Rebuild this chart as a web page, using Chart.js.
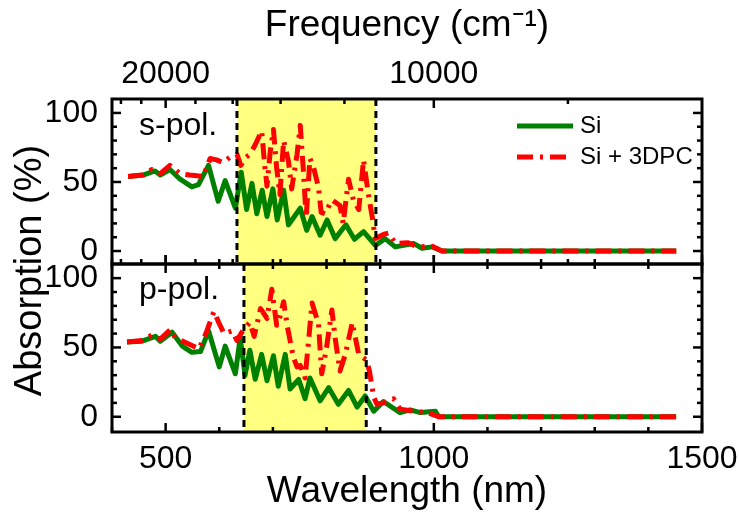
<!DOCTYPE html>
<html>
<head>
<meta charset="utf-8">
<script src="https://cdn.jsdelivr.net/npm/chart.js@4"></script>
<style>
  html, body { margin: 0; padding: 0; background: #fff; }
  #wrap { width: 739px; height: 518px; position: relative; }
</style>
</head>
<body>
<div id="wrap"><canvas id="absorption-chart"></canvas></div>
<script>
// s-pol. panel: Si
const sSiWl  = [430, 458, 480, 490, 508, 527, 549, 561, 580, 598, 611, 630, 641, 651, 661, 670, 680, 689, 700, 708, 720, 729, 751, 763, 773, 788, 801, 816, 836, 852, 869, 891, 909, 928, 962, 978, 997, 1015, 1452];
const sSiAbs = [54, 55, 58, 55, 59, 52, 46.5, 48, 62, 36, 51, 31, 57, 30, 49, 27, 44, 25, 45, 22.5, 44, 19, 31, 15, 25, 11.5, 22.5, 9, 19, 8.5, 14, 4, 9, 3, 5.5, 2, 3, 0, 0];
// s-pol. panel: Si + 3DPC
const sPcWl  = [430, 458, 474, 490, 508, 527, 545, 570, 583, 595, 607, 620, 633, 640, 650, 657, 667, 679, 685, 689, 695, 701, 707, 713, 720, 729, 735, 745, 751, 757, 762, 769, 775, 785, 790, 797, 810, 825, 831, 841, 850, 860, 869, 878, 885, 891, 906, 916, 928, 952, 969, 997, 1015, 1452];
const sPcAbs = [54, 55, 59, 56, 62, 56, 55, 54, 67, 66, 64, 68, 70, 62, 68, 70, 77, 87, 61, 47, 72, 88, 60, 41, 80, 65, 45, 70, 91, 57, 24, 67, 62, 46, 28, 27, 37, 33, 20, 52, 37, 30, 66, 41, 25, 9, 12, 13, 5.5, 6, 3, 3.5, 0, 0];
// p-pol. panel: Si
const pSiWl  = [428, 456, 481, 490, 512, 531, 549, 565, 580, 600, 611, 630, 639, 648, 657, 667, 679, 689, 701, 710, 723, 732, 748, 760, 769, 788, 804, 822, 841, 857, 872, 888, 906, 937, 956, 975, 1003, 1009, 1452];
const pSiAbs = [54, 54.5, 58, 54.5, 61, 51, 46.5, 47, 62, 36, 51, 31, 57, 30, 48, 27, 45, 26, 44, 22, 45, 20, 27, 13, 28, 11.5, 21, 9, 19, 7, 15, 4, 11, 3, 5, 3, 4, 0, 0];
// p-pol. panel: Si + 3DPC
const pPcWl  = [428, 456, 475, 490, 509, 518, 543, 562, 575, 590, 599, 609, 624, 633, 645, 657, 665, 677, 689, 698, 707, 713, 720, 727, 738, 745, 751, 760, 773, 785, 791, 800, 810, 816, 825, 835, 848, 860, 874, 880, 888, 894, 906, 925, 937, 962, 987, 1009, 1452];
const pPcAbs = [54, 55, 59, 56, 63, 57, 52.5, 49, 60, 76, 68, 60, 62, 55, 63, 68, 58, 78, 71, 92, 66, 72, 83, 65, 43, 36, 37, 28, 82, 67, 31, 50, 77, 57, 33, 45, 68, 45, 41, 33, 14, 9, 10, 13, 5.5, 4, 3, 0, 0];

// axes
const wlTicks = [400, 500, 600, 700, 800, 900, 1000, 1100, 1200, 1300, 1400, 1500];
const wlLabels = [500, 1000, 1500];
const freqTicks = [24000, 22000, 20000, 18000, 16000, 14000, 12000, 10000, 8000];
const freqLabels = [20000, 10000];
const yTicks = [0, 50, 100];
const yMinor = [0, 10, 20, 30, 40, 50, 60, 70, 80, 90, 100];

// shaded bands (nm)
const sBand = [633, 892];
const pBand = [646, 874];

const seriesNames = ['Si', 'Si + 3DPC'];

const SANS = '"Liberation Sans", Arial, sans-serif';
const GREEN = 'rgb(0,128,0)';
const RED = 'rgb(255,0,0)';
const PC_DASH = [16, 7, 3, 7];

const panels = [
    { axis: 'yS', band: sBand, label: 's-pol.' },
    { axis: 'yP', band: pBand, label: 'p-pol.' }
];

function pts(wl, abs) {
    return wl.map((w, i) => ({ x: w, y: abs[i] }));
}

function line(ctx, x1, y1, x2, y2) {
    ctx.beginPath();
    ctx.moveTo(x1, y1);
    ctx.lineTo(x2, y2);
    ctx.stroke();
}

const panelPlugin = {
    id: 'panels',
    beforeDatasetsDraw(chart) {
        const ctx = chart.ctx;
        const x = chart.scales.x;
        ctx.save();
        ctx.fillStyle = 'rgb(255,255,128)';
        panels.forEach(p => {
            const y = chart.scales[p.axis];
            const l = x.getPixelForValue(p.band[0]);
            const r = x.getPixelForValue(p.band[1]);
            ctx.fillRect(l, y.top, r - l, y.bottom - y.top);
        });
        ctx.restore();
    },
    afterDatasetsDraw(chart) {
        const ctx = chart.ctx;
        const x = chart.scales.x;
        const yS = chart.scales.yS;
        const yP = chart.scales.yP;
        ctx.save();
        ctx.strokeStyle = '#000';

        // dashed band edges
        ctx.lineWidth = 3;
        ctx.setLineDash([7, 5]);
        panels.forEach(p => {
            const y = chart.scales[p.axis];
            p.band.forEach(b => {
                const px = x.getPixelForValue(b);
                line(ctx, px, y.top, px, y.bottom);
            });
        });
        ctx.setLineDash([]);

        // frames
        ctx.lineWidth = 3;
        panels.forEach(p => {
            const y = chart.scales[p.axis];
            ctx.strokeRect(x.left, y.top, x.right - x.left, y.bottom - y.top);
        });

        // y ticks (inward, both sides)
        ctx.lineWidth = 2.5;
        panels.forEach(p => {
            const y = chart.scales[p.axis];
            yMinor.forEach(v => {
                const py = y.getPixelForValue(v);
                const len = yTicks.includes(v) ? 9 : 5;
                line(ctx, x.left, py, x.left + len, py);
                line(ctx, x.right, py, x.right - len, py);
            });
        });

        // wavelength ticks
        wlTicks.forEach(w => {
            const px = x.getPixelForValue(w);
            const len = wlLabels.includes(w) ? 9 : 5;
            line(ctx, px, yP.bottom, px, yP.bottom - len);
            line(ctx, px, yS.bottom - len, px, yS.bottom + len);
        });

        // frequency ticks
        freqTicks.forEach(f => {
            const px = x.getPixelForValue(1e7 / f);
            const len = freqLabels.includes(f) ? 9 : 5;
            line(ctx, px, yS.top, px, yS.top + len);
            line(ctx, px, yS.bottom, px, yS.bottom - len);
        });

        // panel labels
        ctx.fillStyle = '#000';
        ctx.textAlign = 'left';
        ctx.textBaseline = 'alphabetic';
        ctx.font = '32px ' + SANS;
        ctx.fillText(panels[0].label, x.left + 27, yS.top + 36);
        ctx.fillText(panels[1].label, x.left + 27, yP.top + 35);

        // legend
        ctx.lineWidth = 5;
        ctx.strokeStyle = GREEN;
        line(ctx, x.right - 185, yS.top + 27, x.right - 129, yS.top + 27);
        ctx.strokeStyle = RED;
        ctx.setLineDash(PC_DASH);
        line(ctx, x.right - 185, yS.top + 58, x.right - 129, yS.top + 58);
        ctx.setLineDash([]);
        ctx.font = '24px ' + SANS;
        ctx.textBaseline = 'middle';
        ctx.fillText(seriesNames[0], x.right - 122, yS.top + 27);
        ctx.fillText(seriesNames[1], x.right - 122, yS.top + 58);

        // y title
        ctx.translate(31, (yS.top + yP.bottom) / 2 + 5);
        ctx.rotate(-Math.PI / 2);
        ctx.textAlign = 'center';
        ctx.font = '38px ' + SANS;
        ctx.fillText('Absorption (%)', 0, 0);
        ctx.restore();
    }
};

function yAxis(min, max, weight) {
    return {
        type: 'linear',
        position: 'left',
        stack: 'panels',
        stackWeight: weight,
        min: min,
        max: max,
        grid: { display: false },
        border: { display: false },
        afterBuildTicks: s => { s.ticks = yTicks.map(v => ({ value: v })); },
        afterFit: s => { s.width = 112; },
        ticks: { color: '#000', padding: 6, font: { family: SANS, size: 32 } }
    };
}

new Chart(document.querySelector('#absorption-chart').getContext('2d'), {
    type: 'line',
    data: {
        datasets: [
            { label: seriesNames[1], data: pts(sPcWl, sPcAbs), xAxisID: 'x', yAxisID: 'yS', borderColor: RED, borderDash: PC_DASH, order: 1 },
            { label: seriesNames[0], data: pts(sSiWl, sSiAbs), xAxisID: 'x', yAxisID: 'yS', borderColor: GREEN, order: 2 },
            { label: seriesNames[1], data: pts(pPcWl, pPcAbs), xAxisID: 'x', yAxisID: 'yP', borderColor: RED, borderDash: PC_DASH, order: 1 },
            { label: seriesNames[0], data: pts(pSiWl, pSiAbs), xAxisID: 'x', yAxisID: 'yP', borderColor: GREEN, order: 2 }
        ]
    },
    options: {
        responsive: true,
        maintainAspectRatio: false,
        animation: false,
        layout: { padding: { left: 0, right: 37, top: 0, bottom: 0 } },
        elements: {
            line: { borderWidth: 5, tension: 0, fill: false, borderJoinStyle: 'round' },
            point: { radius: 0 }
        },
        plugins: { legend: { display: false }, tooltip: { enabled: false } },
        scales: {
            x: {
                type: 'linear',
                position: 'bottom',
                min: 400,
                max: 1500,
                grid: { display: false },
                border: { display: false },
                afterBuildTicks: s => { s.ticks = wlTicks.map(v => ({ value: v })); },
                afterFit: s => { s.height = 86; },
                ticks: {
                    color: '#000', padding: 0, autoSkip: false, maxRotation: 0,
                    font: { family: SANS, size: 32 },
                    callback: v => wlLabels.includes(v) ? String(v) : ''
                },
                title: {
                    display: true, text: 'Wavelength (nm)', color: '#000',
                    font: { family: SANS, size: 37 }, padding: { top: 0, bottom: 4 }
                }
            },
            xTop: {
                type: 'linear',
                position: 'top',
                min: 400,
                max: 1500,
                grid: { display: false },
                border: { display: false },
                afterBuildTicks: s => { s.ticks = freqTicks.map(f => ({ value: 1e7 / f })); },
                afterFit: s => { s.height = 99; },
                ticks: {
                    color: '#000', padding: -2, autoSkip: false, maxRotation: 0,
                    font: { family: SANS, size: 32 },
                    callback: (v, i) => freqLabels.includes(freqTicks[i]) ? String(freqTicks[i]) : ''
                },
                title: {
                    display: true, text: 'Frequency (cm\u207B\u00B9)', color: '#000',
                    font: { family: SANS, size: 37 }, padding: { top: 4, bottom: 0 }
                }
            },
            // later scale in a stack is placed on top
            yP: yAxis(-11, 110.2, 168),
            yS: yAxis(-9.4, 110.1, 165)
        }
    },
    plugins: [panelPlugin]
});
</script>
</body>
</html>
